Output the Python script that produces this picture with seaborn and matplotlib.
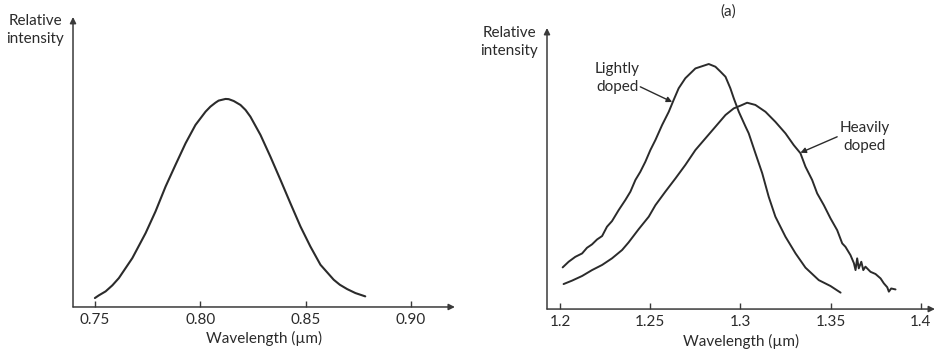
import matplotlib
matplotlib.use("Agg")
import matplotlib.pyplot as plt
import seaborn as sns
import pandas as pd

# left panel: single emission curve
left_wl = [0.7499, 0.7518, 0.755, 0.7582, 0.7613, 0.7677, 0.774, 0.7787, 0.7835,
           0.7882, 0.793, 0.7977, 0.8025, 0.8048, 0.8072, 0.8087, 0.812, 0.8135,
           0.8159, 0.8191, 0.8215, 0.8238, 0.8286, 0.8333, 0.8381, 0.8428, 0.8476,
           0.8523, 0.8571, 0.8634, 0.8663, 0.8698, 0.8737, 0.8784]
left_int = [0.043, 0.056, 0.075, 0.104, 0.139, 0.235, 0.355, 0.459, 0.579,
            0.683, 0.787, 0.875, 0.939, 0.963, 0.982, 0.992, 1.0, 0.999,
            0.99, 0.971, 0.947, 0.915, 0.827, 0.723, 0.611, 0.499, 0.387,
            0.291, 0.203, 0.131, 0.107, 0.086, 0.067, 0.051]

# right panel: lightly / heavily doped
light_wl = [1.2013, 1.2046, 1.2083, 1.2121, 1.2148, 1.2176, 1.2204, 1.2232, 1.2259,
            1.2287, 1.2324, 1.2361, 1.2389, 1.2417, 1.2444, 1.2472, 1.25, 1.2528,
            1.2565, 1.2602, 1.2629, 1.2657, 1.2694, 1.275, 1.2824, 1.2861, 1.2889,
            1.2917, 1.2944, 1.2963, 1.2991, 1.3028, 1.3046, 1.3083, 1.3121, 1.3157,
            1.3194, 1.325, 1.3306, 1.3361, 1.3435, 1.35, 1.3556]
light_int = [0.17, 0.193, 0.213, 0.227, 0.25, 0.264, 0.284, 0.298, 0.336,
             0.359, 0.404, 0.445, 0.479, 0.527, 0.56, 0.601, 0.649, 0.69,
             0.751, 0.805, 0.853, 0.901, 0.942, 0.982, 1.0, 0.989, 0.969,
             0.948, 0.901, 0.86, 0.805, 0.745, 0.717, 0.636, 0.554, 0.458,
             0.377, 0.295, 0.227, 0.169, 0.118, 0.094, 0.067]

heavy_wl = [1.2018, 1.2065, 1.2121, 1.2176, 1.2232, 1.2287, 1.2343, 1.2379, 1.2435,
            1.2491, 1.2528, 1.2583, 1.2639, 1.2694, 1.275, 1.2806, 1.2861, 1.2917,
            1.2963, 1.3, 1.3037, 1.3083, 1.3139, 1.3194, 1.325, 1.3296, 1.3333,
            1.3361, 1.3398, 1.3426, 1.3463, 1.35, 1.3537, 1.3565, 1.3583, 1.3611,
            1.363, 1.3639, 1.3648, 1.3657, 1.3671, 1.3682, 1.3694, 1.3722, 1.375,
            1.3778, 1.3796, 1.3815, 1.3824, 1.3837, 1.3861]
heavy_int = [0.102, 0.116, 0.135, 0.159, 0.18, 0.207, 0.241, 0.272, 0.326,
             0.377, 0.424, 0.479, 0.533, 0.588, 0.649, 0.697, 0.744, 0.792,
             0.819, 0.83, 0.842, 0.833, 0.805, 0.764, 0.717, 0.669, 0.636,
             0.581, 0.527, 0.472, 0.424, 0.37, 0.322, 0.268, 0.254, 0.22,
             0.187, 0.159, 0.207, 0.166, 0.193, 0.159, 0.173, 0.152, 0.143,
             0.125, 0.105, 0.089, 0.071, 0.084, 0.08]

left_ticks = [0.75, 0.80, 0.85, 0.90]
left_ticklabels = ["0.75", "0.80", "0.85", "0.90"]
right_ticks = [1.2, 1.25, 1.3, 1.35, 1.4]
right_ticklabels = ["1.2", "1.25", "1.3", "1.35", "1.4"]

sns.set_style("white")
plt.rcParams["font.family"] = ["Lato", "DejaVu Sans"]
plt.rcParams["font.size"] = 11

ink = "#2b2b2b"
axc = "#3a3a3a"

fig = plt.figure(figsize=(9.36, 3.5), dpi=100)
ax1 = fig.add_axes([0.078, 0.1229, 0.408, 0.8286])
ax2 = fig.add_axes([0.5844, 0.117, 0.4145, 0.803])

df_left = pd.DataFrame({"wl": left_wl, "val": left_int})
sns.lineplot(data=df_left, x="wl", y="val", ax=ax1, color=ink, lw=1.5, sort=False,
             solid_joinstyle="round")

df_light = pd.DataFrame({"wl": light_wl, "val": light_int})
df_heavy = pd.DataFrame({"wl": heavy_wl, "val": heavy_int})
sns.lineplot(data=df_light, x="wl", y="val", ax=ax2, color=ink, lw=1.4, sort=False,
             solid_joinstyle="round")
sns.lineplot(data=df_heavy, x="wl", y="val", ax=ax2, color=ink, lw=1.4, sort=False,
             solid_joinstyle="round")

ax1.set_xlim(0.7395, 0.921)
ax1.set_ylim(0, 1.394)
ax2.set_xlim(1.1926, 1.408)
ax2.set_ylim(0, 1.147)

for ax, ticks, labels in [(ax1, left_ticks, left_ticklabels),
                          (ax2, right_ticks, right_ticklabels)]:
    for s in ax.spines.values():
        s.set_visible(False)
    ax.set_xticks(ticks)
    ax.set_xticklabels(labels)
    ax.set_yticks([])
    ax.tick_params(axis="x", direction="in", length=4.5, width=1, color=axc,
                   labelcolor=ink, pad=4.5, bottom=True)
    ax.set_xlabel("Wavelength (\u00b5m)", color=ink, labelpad=3)
    ax.set_ylabel("")
    # axis arrows
    ax.annotate("", xy=(1, 0), xytext=(0, 0), xycoords="axes fraction",
                arrowprops=dict(arrowstyle="-|>", lw=1.1, color=axc,
                                mutation_scale=9, shrinkA=0, shrinkB=0))
    ax.annotate("", xy=(0, 1), xytext=(0, 0), xycoords="axes fraction",
                arrowprops=dict(arrowstyle="-|>", lw=1.1, color=axc,
                                mutation_scale=9, shrinkA=0, shrinkB=0))

fig.text(35 / 936, 1 - 30 / 350, "Relative\nintensity", ha="center", va="center",
         color=ink, linespacing=1.3)
fig.text(509 / 936, 1 - 42 / 350, "Relative\nintensity", ha="center", va="center",
         color=ink, linespacing=1.3)
fig.text(728 / 936, 1 - 12 / 350, "(a)", ha="center", va="center", color=ink)

ax2.text(1.2315, 0.943, "Lightly\ndoped", ha="center", va="center", color=ink,
         linespacing=1.3)
ax2.annotate("", xy=(1.2621, 0.845), xytext=(1.2444, 0.907),
             arrowprops=dict(arrowstyle="-|>", lw=1.0, color=ink,
                             mutation_scale=8, shrinkA=0, shrinkB=0))
ax2.text(1.3689, 0.702, "Heavily\ndoped", ha="center", va="center", color=ink,
         linespacing=1.3)
ax2.annotate("", xy=(1.3333, 0.638), xytext=(1.3537, 0.703),
             arrowprops=dict(arrowstyle="-|>", lw=1.0, color=ink,
                             mutation_scale=8, shrinkA=0, shrinkB=0))

fig.savefig("out.png", dpi=100)
